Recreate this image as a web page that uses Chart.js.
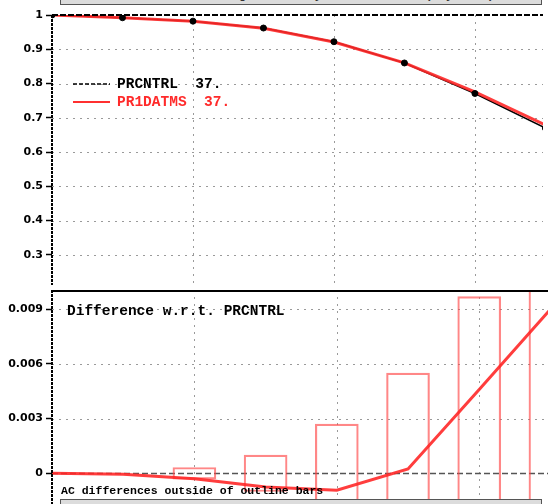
<!DOCTYPE html>
<html>
<head>
<meta charset="utf-8">
<script src="https://cdn.jsdelivr.net/npm/chart.js@4.4.1/dist/chart.umd.min.js"></script>
<style>
    html, body { margin: 0; padding: 0; background: #fff; overflow: hidden; }
    #wrap { position: relative; width: 548px; height: 504px; overflow: hidden; }
    canvas { position: absolute; left: 0; }
    #acChart { top: 0; }
    #diffChart { top: 290px; }
    .lbl { position: absolute; white-space: pre; font-family: "Liberation Mono", monospace; font-weight: bold; }
    .big { font-size: 14.5px; line-height: 16px; }
    .small { font-size: 11.5px; line-height: 13px; }
    .box { position: absolute; left: 60px; width: 480px; background: #dcdcdc; border: 1px solid #555; }
</style>
</head>
<body>
<div id="wrap">
    <div class="box" style="top: -15px; height: 18px;">
        <div class="lbl small" style="left: 0; width: 480px; text-align: center; top: 3px; color: #333;">AC  NH  500hPa  Height  Anomaly  Correlation  (Day 0-10)</div>
    </div>
    <canvas id="acChart" width="548" height="290"></canvas>
    <canvas id="diffChart" width="548" height="214"></canvas>

    <svg style="position:absolute; left:0; top:0;" width="548" height="120">
        <line x1="73" y1="84" x2="110" y2="84" stroke="#000" stroke-width="1.5" stroke-dasharray="4 2"/>
        <line x1="73" y1="102" x2="110" y2="102" stroke="#ff3030" stroke-width="2"/>
    </svg>
    <div class="lbl big" style="left: 117px; top: 76px; color: #000;">PRCNTRL  37.</div>
    <div class="lbl big" style="left: 117px; top: 94px; color: #ff2a2a;">PR1DATMS  37.</div>
    <div class="lbl big" style="left: 67px; top: 303px; color: #000;">Difference w.r.t. PRCNTRL</div>
    <div class="lbl small" style="left: 61px; top: 484px; color: #000;">AC differences outside of outline bars</div>
    <div class="box" style="top: 499px; height: 20px;"></div>
</div>

<script>
// forecast step (index along the x axis)
const days = [0, 1, 2, 3, 4, 5, 6, 7];
const prcntrl = [1.0, 0.992, 0.982, 0.962, 0.922, 0.860, 0.771, 0.670];
const pr1datms = [1.0, 0.992, 0.9817, 0.9612, 0.9211, 0.8602, 0.7756, 0.679];
const acDiff = [0, -0.00005, -0.0003, -0.00075, -0.00093, 0.00024, 0.0046, 0.009];
// half height of the significance (outline) bars
const sigHalf = [0, 0, 0.00032, 0.001, 0.0027, 0.0055, 0.0097, 0.0125];

const acTicks = [0.3, 0.4, 0.5, 0.6, 0.7, 0.8, 0.9, 1];
const diffTicks = [0, 0.003, 0.006, 0.009];
const gridDays = [2, 4, 6];

const X_MAX = 6.966;

const pts = (ys) => days.map((d, i) => ({ x: d, y: ys[i] }));

const tickFont = { family: 'DejaVu Sans', weight: 'bold', size: 11 };

function yAxis(min, max, tickList) {
    return {
        type: 'linear',
        min: min,
        max: max,
        afterBuildTicks: s => { s.ticks = tickList.map(v => ({ value: v })); },
        afterFit: s => { s.width = 52; s.paddingTop = 0; s.paddingBottom = 0; },
        ticks: {
            color: '#000',
            font: tickFont,
            padding: 3,
            callback: v => String(+Number(v).toFixed(3))
        },
        grid: {
            drawOnChartArea: false,
            drawTicks: true,
            tickLength: 6,
            tickColor: '#000',
            tickWidth: 1.5
        },
        border: { display: false }
    };
}

const xAxis = { type: 'linear', display: false, min: 0, max: X_MAX, offset: false };

// dotted grid + dashed frame drawn from the scales
const panelGrid = {
    id: 'panelGrid',
    beforeDatasetsDraw(chart, args, opts) {
        const { ctx, chartArea: a, scales: { x, y } } = chart;
        ctx.save();
        ctx.lineWidth = 1;
        ctx.strokeStyle = '#9a9a9a';
        ctx.setLineDash([2, 5]);
        gridDays.forEach(d => {
            const px = Math.round(x.getPixelForValue(d)) + 0.5;
            ctx.beginPath(); ctx.moveTo(px, a.top); ctx.lineTo(px, a.bottom); ctx.stroke();
        });
        opts.hLines.forEach(v => {
            const py = Math.round(y.getPixelForValue(v)) + 0.5;
            ctx.beginPath(); ctx.moveTo(a.left, py); ctx.lineTo(a.right, py); ctx.stroke();
        });
        if (opts.zeroLine) {
            const py = Math.round(y.getPixelForValue(0)) + 0.5;
            ctx.strokeStyle = '#555';
            ctx.lineWidth = 1.5;
            ctx.setLineDash([6, 3]);
            ctx.beginPath(); ctx.moveTo(a.left, py); ctx.lineTo(a.right, py); ctx.stroke();
        }
        ctx.restore();
    },
    afterDatasetsDraw(chart, args, opts) {
        const { ctx, chartArea: a } = chart;
        ctx.save();
        ctx.strokeStyle = '#000';
        ctx.lineWidth = 2;
        ctx.setLineDash([3, 1]);
        ctx.beginPath(); ctx.moveTo(a.left, a.top); ctx.lineTo(a.left, a.bottom); ctx.stroke();
        if (opts.topDashed) {
            ctx.setLineDash([6, 2]);
            ctx.beginPath(); ctx.moveTo(a.left, a.top); ctx.lineTo(a.right, a.top); ctx.stroke();
        }
        if (opts.topSolid) {
            ctx.setLineDash([]);
            ctx.beginPath(); ctx.moveTo(a.left, a.top + 1); ctx.lineTo(a.right, a.top + 1); ctx.stroke();
        }
        ctx.restore();
    }
};

const common = {
    responsive: false,
    animation: false,
    devicePixelRatio: 1,
    events: [],
    plugins: { legend: { display: false }, tooltip: { enabled: false } }
};

new Chart(document.getElementById('acChart'), {
    type: 'line',
    data: {
        datasets: [
            {
                label: 'PRCNTRL line',
                data: pts(prcntrl),
                borderColor: '#000',
                borderWidth: 1.5,
                pointRadius: 0,
                order: 3
            },
            {
                label: 'PR1DATMS',
                data: pts(pr1datms),
                borderColor: 'rgba(255, 40, 40, 0.9)',
                borderWidth: 3,
                pointRadius: 0,
                order: 2
            },
            {
                label: 'PRCNTRL',
                data: pts(prcntrl),
                showLine: false,
                pointStyle: 'circle',
                pointRadius: 3,
                pointBackgroundColor: '#000',
                pointBorderColor: '#000',
                order: 1
            }
        ]
    },
    options: {
        ...common,
        layout: { padding: { top: 15, left: 0, right: 0, bottom: 0 } },
        scales: {
            x: xAxis,
            y: yAxis(0.212, 1.0, acTicks)
        },
        plugins: {
            ...common.plugins,
            panelGrid: { hLines: acTicks.filter(v => v < 1), zeroLine: false, topDashed: true }
        }
    },
    plugins: [panelGrid]
});

new Chart(document.getElementById('diffChart'), {
    type: 'bar',
    data: {
        datasets: [
            {
                type: 'line',
                label: 'PR1DATMS - PRCNTRL',
                data: pts(acDiff),
                borderColor: 'rgba(255, 40, 40, 0.9)',
                borderWidth: 3,
                pointRadius: 0,
                order: 1
            },
            {
                type: 'bar',
                label: 'significance',
                data: days.map((d, i) => ({ x: d, y: [-sigHalf[i], sigHalf[i]] })),
                backgroundColor: 'rgba(0,0,0,0)',
                borderColor: 'rgba(255, 70, 70, 0.65)',
                borderWidth: 1.5,
                borderSkipped: false,
                barThickness: 43,
                order: 2
            }
        ]
    },
    options: {
        ...common,
        layout: { padding: 0 },
        scales: {
            x: xAxis,
            y: yAxis(-0.001685, 0.01006, diffTicks)
        },
        plugins: {
            ...common.plugins,
            panelGrid: { hLines: diffTicks.filter(v => v > 0), zeroLine: true, topSolid: true }
        }
    },
    plugins: [panelGrid]
});
</script>
</body>
</html>
